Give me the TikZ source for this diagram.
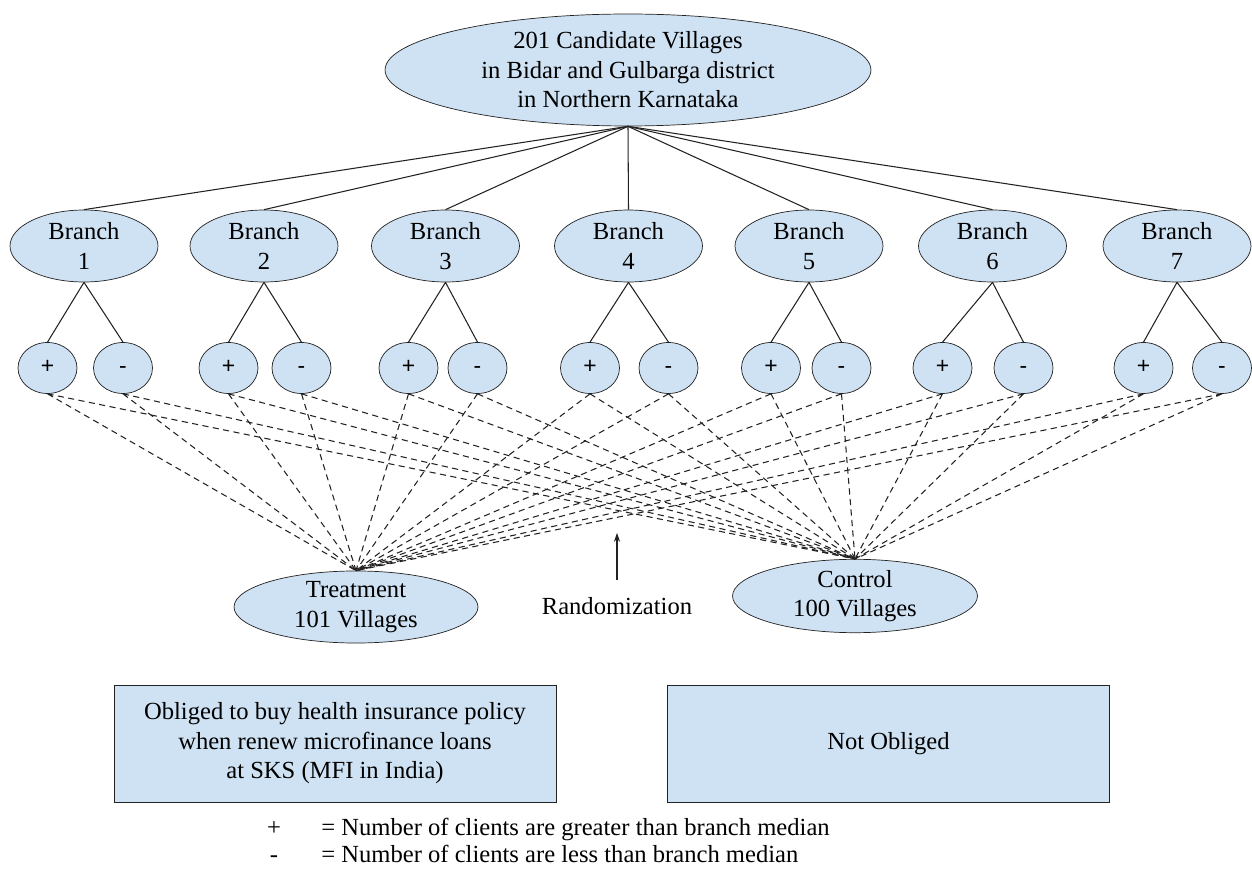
\documentclass[tikz,border=0pt]{standalone}
\usepackage{fontspec}
\setmainfont{Liberation Serif}
\setsansfont{Liberation Sans}
\usetikzlibrary{shapes.geometric,arrows.meta}
\definecolor{paleblue}{HTML}{CFE2F3}
\definecolor{edge}{HTML}{222222}

\tikzset{
  village/.style={ellipse, draw=edge, fill=paleblue, align=center, inner sep=0pt,
    font=\fontsize{14}{16.8}\selectfont},
  branch/.style={village, minimum width=2.96cm, minimum height=1.44cm},
  sign/.style={ellipse, draw=edge, fill=paleblue, inner sep=0pt, text height=1.6ex, text depth=0.25ex,
    minimum width=1.18cm, minimum height=1.02cm, font=\sffamily\fontsize{13}{15}\selectfont},
  rule/.style={rectangle, draw=edge, fill=paleblue, align=center, inner sep=0pt,
    minimum width=8.84cm, minimum height=2.34cm, font=\fontsize{14}{16.8}\selectfont},
  key/.style={font=\fontsize{14}{16.8}\selectfont, text height=1.6ex, text depth=0.25ex},
  assign/.style={draw=edge, dash pattern=on 3.5pt off 2.5pt, line width=0.6pt},
  tree/.style={draw=edge, line width=0.6pt}
}

\begin{document}
\begin{tikzpicture}[x=0.02cm, y=-0.02cm]
\useasboundingbox (0,0) rectangle (1252,871);

% candidate villages and branches
\node[village, minimum width=9.72cm, minimum height=2.24cm] (all) at (628,70)
  {201 Candidate Villages\\in Bidar and Gulbarga district\\in Northern Karnataka};
\node[branch] (b1) at (84,246) {Branch\\1};
\node[branch] (b2) at (264,246) {Branch\\2};
\node[branch] (b3) at (445.5,246) {Branch\\3};
\node[branch] (b4) at (628.5,246) {Branch\\4};
\node[branch] (b5) at (809,246) {Branch\\5};
\node[branch] (b6) at (992.5,246) {Branch\\6};
\node[branch] (b7) at (1177,246) {Branch\\7};

% above / below branch median
\node[sign] (p1) at (47.5,368) {+};
\node[sign] (m1) at (123,368) {-};
\node[sign] (p2) at (228.5,368) {+};
\node[sign] (m2) at (301.5,368) {-};
\node[sign] (p3) at (408.5,368) {+};
\node[sign] (m3) at (477.5,368) {-};
\node[sign] (p4) at (590,368) {+};
\node[sign] (m4) at (668.5,368) {-};
\node[sign] (p5) at (771,368) {+};
\node[sign] (m5) at (841.5,368) {-};
\node[sign] (p6) at (942.5,368) {+};
\node[sign] (m6) at (1023.5,368) {-};
\node[sign] (p7) at (1143.5,368) {+};
\node[sign] (m7) at (1222,368) {-};

\node[village, minimum width=4.88cm, minimum height=1.44cm] (treat) at (356,607)
  {Treatment\\101 Villages};
\node[village, minimum width=4.9cm, minimum height=1.36cm] (ctrl) at (855,596)
  {Control\\100 Villages};

\draw[tree] (all.south) -- (b1.north);
\draw[tree] (all.south) -- (b2.north);
\draw[tree] (all.south) -- (b3.north);
\draw[tree] (all.south) -- (b4.north);
\draw[tree] (all.south) -- (b5.north);
\draw[tree] (all.south) -- (b6.north);
\draw[tree] (all.south) -- (b7.north);

\draw[tree] (b1.south) -- (p1.north) (b1.south) -- (m1.north);
\draw[tree] (b2.south) -- (p2.north) (b2.south) -- (m2.north);
\draw[tree] (b3.south) -- (p3.north) (b3.south) -- (m3.north);
\draw[tree] (b4.south) -- (p4.north) (b4.south) -- (m4.north);
\draw[tree] (b5.south) -- (p5.north) (b5.south) -- (m5.north);
\draw[tree] (b6.south) -- (p6.north) (b6.south) -- (m6.north);
\draw[tree] (b7.south) -- (p7.north) (b7.south) -- (m7.north);

\draw[assign] (p1.south) -- (treat.north) (p1.south) -- (ctrl.north);
\draw[assign] (m1.south) -- (treat.north) (m1.south) -- (ctrl.north);
\draw[assign] (p2.south) -- (treat.north) (p2.south) -- (ctrl.north);
\draw[assign] (m2.south) -- (treat.north) (m2.south) -- (ctrl.north);
\draw[assign] (p3.south) -- (treat.north) (p3.south) -- (ctrl.north);
\draw[assign] (m3.south) -- (treat.north) (m3.south) -- (ctrl.north);
\draw[assign] (p4.south) -- (treat.north) (p4.south) -- (ctrl.north);
\draw[assign] (m4.south) -- (treat.north) (m4.south) -- (ctrl.north);
\draw[assign] (p5.south) -- (treat.north) (p5.south) -- (ctrl.north);
\draw[assign] (m5.south) -- (treat.north) (m5.south) -- (ctrl.north);
\draw[assign] (p6.south) -- (treat.north) (p6.south) -- (ctrl.north);
\draw[assign] (m6.south) -- (treat.north) (m6.south) -- (ctrl.north);
\draw[assign] (p7.south) -- (treat.north) (p7.south) -- (ctrl.north);
\draw[assign] (m7.south) -- (treat.north) (m7.south) -- (ctrl.north);

% randomization arrow
\node[font=\fontsize{14}{16.8}\selectfont] (rand) at (617,606) {Randomization};
\coordinate (randfoot) at (617,580);
\coordinate (randtip) at (617,533);
\draw[tree, -{Stealth[length=5pt,width=3.5pt]}] (randfoot) -- (randtip);

% what each arm must do
\node[rule] (oblig) at (335,743.5)
  {Obliged to buy health insurance policy\\when renew microfinance loans\\at SKS (MFI in India)};
\node[rule] (free) at (888.5,743.5) {Not Obliged};

% legend
\node[key] (keyp) at (274,830) {+};
\node[key] (keym) at (274,857) {-};
\node[key, anchor=west, inner sep=0pt] (keyptxt) at (321,830)
  {= Number of clients are greater than branch median};
\node[key, anchor=west, inner sep=0pt] (keymtxt) at (321,857)
  {= Number of clients are less than branch median};
\end{tikzpicture}
\end{document}
